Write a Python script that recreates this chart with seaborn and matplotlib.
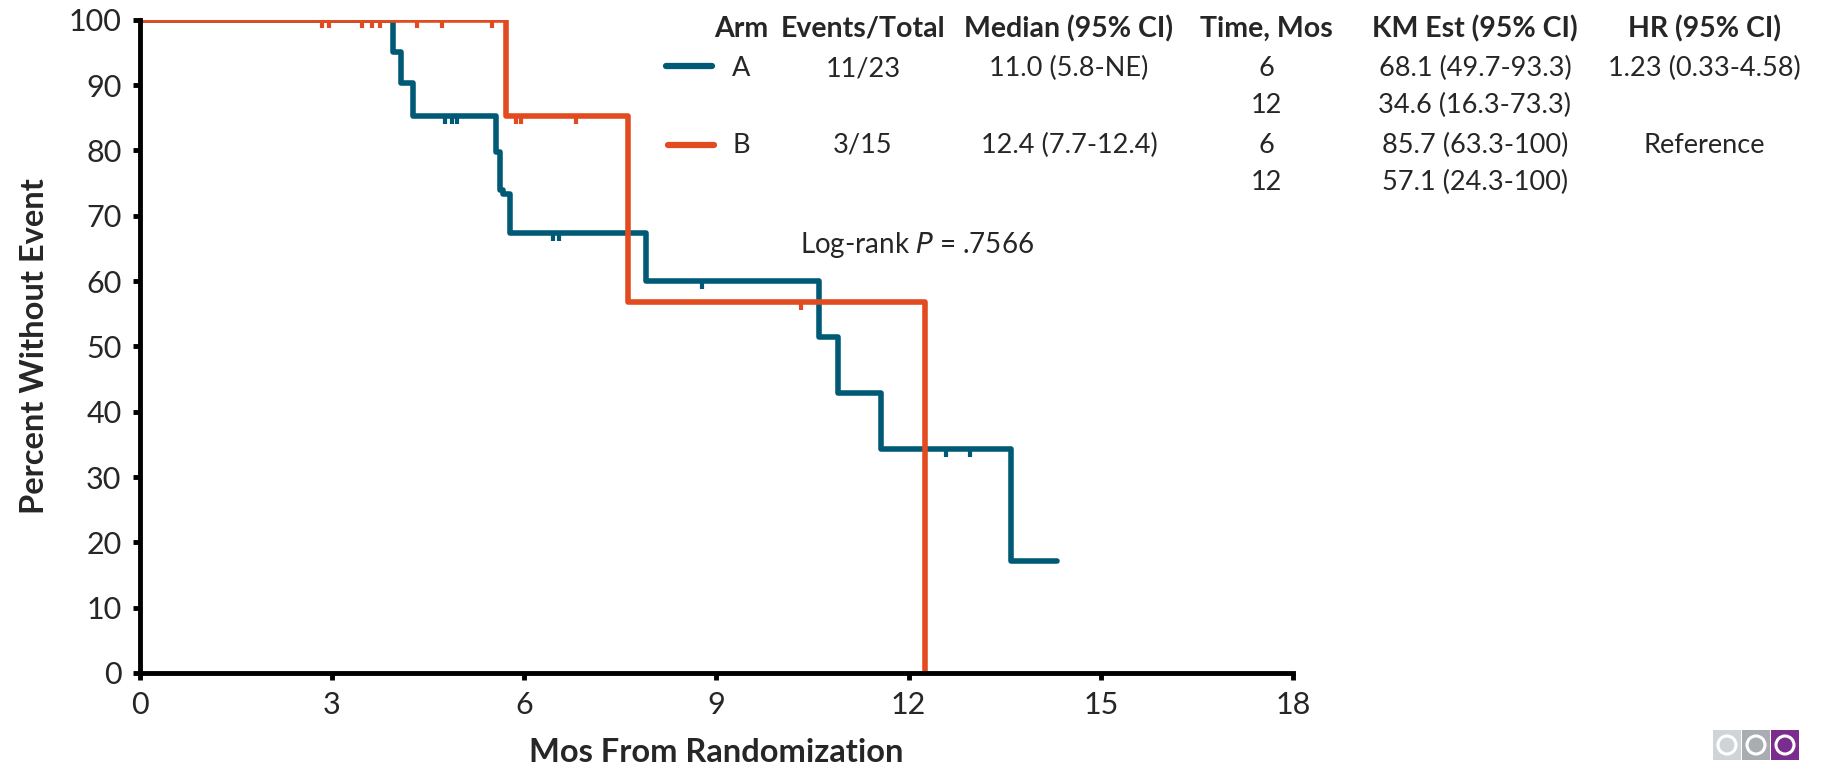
import numpy as np
import pandas as pd
import seaborn as sns
import matplotlib.pyplot as plt
from matplotlib.lines import Line2D
from matplotlib.patches import Rectangle, Circle

# Kaplan-Meier steps
arm_a_times = [0, 3.96, 4.08, 4.27, 5.57, 5.63, 5.68, 5.78, 7.9, 10.6, 10.9, 11.57, 13.6, 14.32]
arm_a_surv = [100, 95.1, 90.3, 85.2, 79.8, 74.0, 73.4, 67.3, 60.0, 51.4, 42.9, 34.3, 17.2, 17.2]
arm_a_censor = [4.77, 4.88, 4.96, 6.45, 6.55, 8.78, 12.59, 12.96]

arm_b_times = [0, 5.72, 7.63, 12.25]
arm_b_surv = [100, 85.2, 56.8, 0]
arm_b_censor = [2.85, 2.95, 3.47, 3.63, 3.75, 4.33, 4.72, 5.5, 5.87, 5.95, 6.81, 10.33]

x_ticks = [0, 3, 6, 9, 12, 15, 18]
y_ticks = [0, 10, 20, 30, 40, 50, 60, 70, 80, 90, 100]

# summary table
table_header = ["Arm", "Events/Total", "Median (95% CI)", "Time, Mos", "KM Est (95% CI)", "HR (95% CI)"]
table_rows = [
    ["A", "11/23", "11.0 (5.8-NE)", "6", "68.1 (49.7-93.3)", "1.23 (0.33-4.58)"],
    ["", "", "", "12", "34.6 (16.3-73.3)", ""],
    ["B", "3/15", "12.4 (7.7-12.4)", "6", "85.7 (63.3-100)", "Reference"],
    ["", "", "", "12", "57.1 (24.3-100)", ""],
]
logrank_p = ".7566"

blue = "#005a75"
orange = "#e24a1f"

sns.set_style("white")
plt.rcParams["font.family"] = ["Lato", "DejaVu Sans"]

W, H = 1823, 765
fig = plt.figure(figsize=(W / 100, H / 100), dpi=100)
ax = fig.add_axes([139.5 / W, 1 - 673 / H, (1293 - 139.5) / W, (673 - 19.8) / H])


def level_at(times, surv, t):
    idx = np.searchsorted(times, t, side="right") - 1
    return np.asarray(surv)[idx]


curves = pd.concat([
    pd.DataFrame({"time": arm_a_times, "surv": arm_a_surv, "arm": "A"}),
    pd.DataFrame({"time": arm_b_times, "surv": arm_b_surv, "arm": "B"}),
])

sns.lineplot(data=curves, x="time", y="surv", hue="arm", palette={"A": blue, "B": orange},
             estimator=None, sort=False, drawstyle="steps-post", linewidth=4,
             legend=False, ax=ax)

# censor ticks hanging below the curve
ax.plot(arm_a_censor, level_at(arm_a_times, arm_a_surv, arm_a_censor), linestyle="none",
        marker=3, markersize=6, markeredgewidth=3, color=blue)
ax.plot(arm_b_censor, level_at(arm_b_times, arm_b_surv, arm_b_censor), linestyle="none",
        marker=3, markersize=6, markeredgewidth=3, color=orange)

ax.set_xlim(0, 18)
ax.set_ylim(0, 100)
ax.set_xticks(x_ticks)
ax.set_yticks(y_ticks)
ax.tick_params(axis="both", direction="out", length=5, width=3.5, labelsize=22, pad=8,
               left=True, bottom=True, color="black")
for side in ["top", "right"]:
    ax.spines[side].set_visible(False)
for side in ["left", "bottom"]:
    ax.spines[side].set_linewidth(3.5)
    ax.spines[side].set_color("black")
ax.set_xlabel("Mos From Randomization", fontsize=23.5, fontweight="bold", labelpad=14)
ax.set_ylabel("Percent Without Event", fontsize=23.5, fontweight="bold", labelpad=14)

# table over the plot
col_x = [741, 863, 1069, 1266, 1475, 1704]
row_y = [68.6, 105.8, 145.3, 182.5]
for x, txt in zip(col_x, table_header):
    fig.text(x / W, 1 - 29 / H, txt, ha="center", va="center", fontsize=20.5, fontweight="bold")
for y, row in zip(row_y, table_rows):
    for x, txt in zip(col_x, row):
        fig.text(x / W, 1 - y / H, txt, ha="center", va="center", fontsize=19.5)

fig.add_artist(Line2D([666 / W, 712 / W], [1 - 66 / H, 1 - 66 / H], color=blue, linewidth=4.5))
fig.add_artist(Line2D([668 / W, 714 / W], [1 - 145 / H, 1 - 145 / H], color=orange, linewidth=4.5))

fig.text(917 / W, 1 - 245 / H, "Log-rank $\\mathit{P}$ = " + logrank_p, ha="center", va="center",
         fontsize=20)

# little logo bottom right
logo_cols = ["#d1d4d7", "#a9acb0", "#7b2d8e"]
logo_x = [1713, 1742, 1771]
for x, c in zip(logo_x, logo_cols):
    fig.add_artist(Rectangle((x / W, 5 / H), 28 / W, 30 / H, transform=fig.transFigure,
                             facecolor=c, edgecolor="none"))
    ring = Circle((x + 14, 20), 9, transform=None, facecolor="none", edgecolor="white", linewidth=2.2)
    fig.add_artist(ring)

fig.savefig("out.png", dpi=100)
